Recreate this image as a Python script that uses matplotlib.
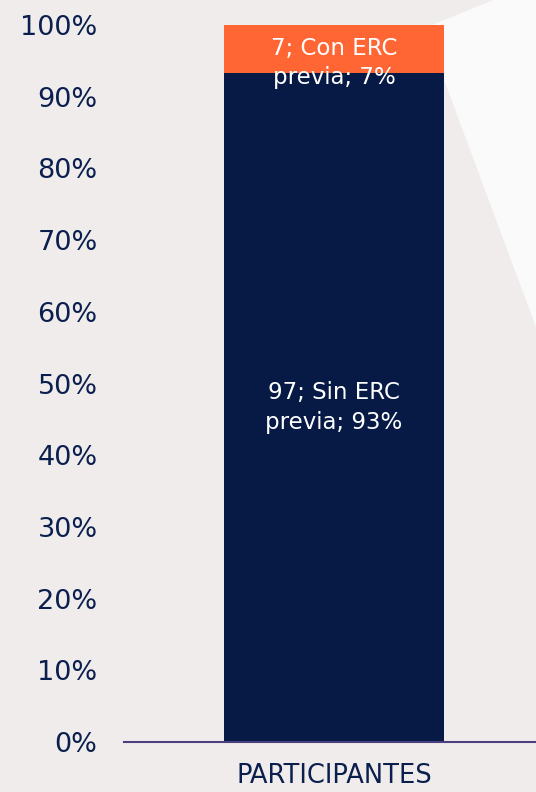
import matplotlib.pyplot as plt
from matplotlib.patches import Polygon
from matplotlib.ticker import PercentFormatter

categories = ["PARTICIPANTES"]
counts_sin = [97]
counts_con = [7]

navy = "#061a45"
orange = "#ff6633"
bg = "#f0ecec"
text_col = "#0b1f4e"

total = [a + b for a, b in zip(counts_sin, counts_con)]
pct_sin = [100 * a / t for a, t in zip(counts_sin, total)]
pct_con = [100 * b / t for b, t in zip(counts_con, total)]

fig = plt.figure(figsize=(5.36, 7.92), dpi=100, facecolor=bg)
W, H = 536, 792

# light decorative shape in the top right corner (figure pixels)
shape = [(493, 0), (536, 0), (536, 327), (443, 77), (425, 28)]
fig.patches.append(Polygon([(x / W, 1 - y / H) for x, y in shape],
                           closed=True, transform=fig.transFigure,
                           facecolor="#fafafa", edgecolor="none", zorder=-1))

ax = fig.add_axes([124 / W, 1 - 742 / H, (536 - 124) / W, (742 - 25) / H])
ax.patch.set_alpha(0)

x = range(len(categories))
ax.bar(x, pct_sin, width=0.534, color=navy, zorder=2)
ax.bar(x, pct_con, bottom=pct_sin, width=0.534, color=orange, zorder=2)

for i in x:
    ax.text(i, pct_sin[i] / 2, f"{counts_sin[i]}; Sin ERC\nprevia; {round(pct_sin[i])}%",
            ha="center", va="center", color="white", fontsize=16.5,
            linespacing=1.35, zorder=3)
    ax.annotate(f"{counts_con[i]}; Con ERC\nprevia; {round(pct_con[i])}%",
                xy=(i, pct_sin[i] + pct_con[i] / 2), xytext=(0, -10),
                textcoords="offset points", ha="center", va="center",
                color="white", fontsize=16.5, linespacing=1.35, zorder=3)

ax.set_xlim(-0.51, 0.49)
ax.set_ylim(0, 100)
ax.set_yticks(range(0, 101, 10))
ax.yaxis.set_major_formatter(PercentFormatter(decimals=0))
ax.set_xticks(list(x))
ax.set_xticklabels(categories)
ax.tick_params(axis="y", length=0, pad=19, labelsize=19.5, labelcolor=text_col)
ax.tick_params(axis="x", length=0, pad=15, labelsize=18.5, labelcolor=text_col)

for side in ["top", "right", "left"]:
    ax.spines[side].set_visible(False)
ax.spines["bottom"].set_color("#4b3f7d")
ax.spines["bottom"].set_linewidth(1.5)

fig.savefig("out.png", dpi=100, facecolor=bg)
